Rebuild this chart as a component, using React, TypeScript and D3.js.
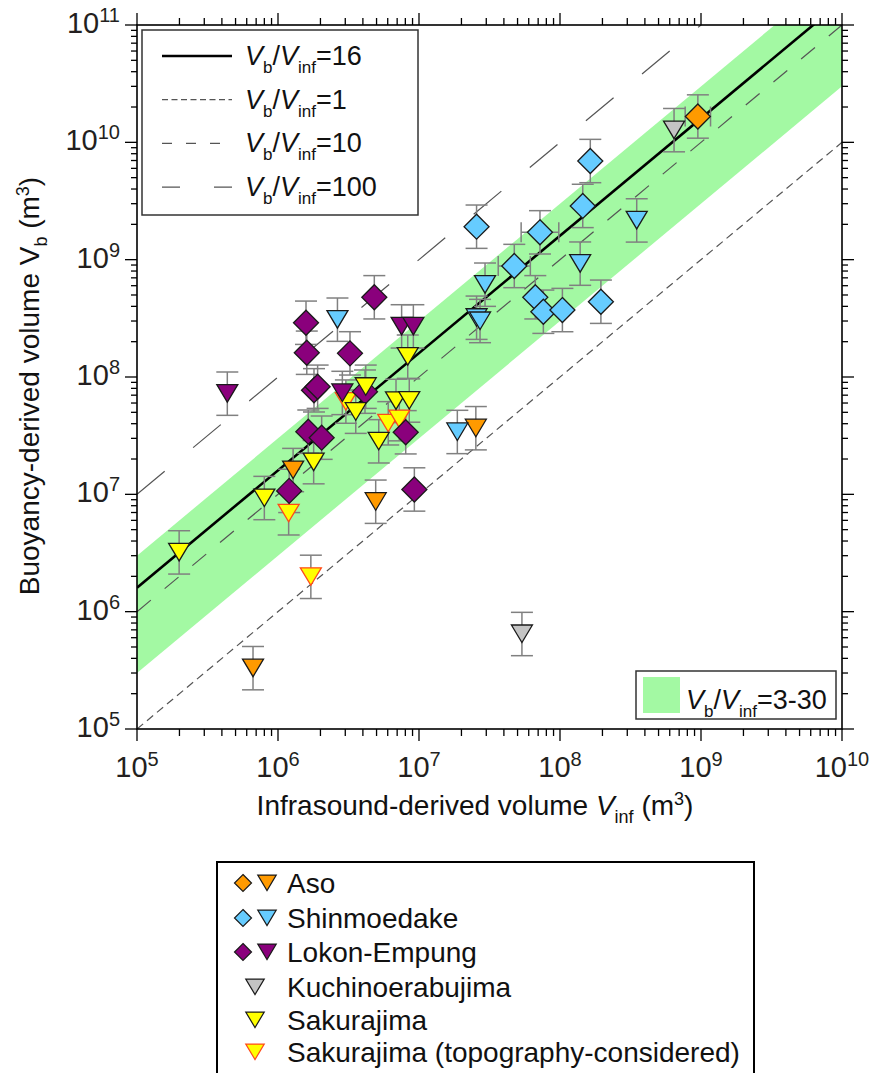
import React from 'react';
import * as d3 from 'd3';

// [Vinf, Vb, optional horizontal error factor]
const asoDiamond = [[9.5e8, 1.66e10, 1.23]];
const asoTriangle = [[6.65e5, 3.3e5], [4.93e6, 8.65e6], [1.28e6, 1.61e7], [2.53e7, 3.66e7]];
const shinDiamond = [
  [1.64e8, 6.93e9], [1.45e8, 2.87e9], [2.56e7, 1.91e9], [7.21e7, 1.71e9, 1.36],
  [4.74e7, 8.83e8, 1.3], [6.68e7, 4.78e8], [7.62e7, 3.6e8], [1.04e8, 3.72e8], [1.95e8, 4.38e8],
];
const shinTriangle = [
  [3.5e8, 2.16e9], [2.94e7, 6.12e8], [1.39e8, 9.25e8], [2.56e7, 3.2e8],
  [2.71e7, 3.0e8], [1.87e7, 3.4e7], [2.64e6, 3.08e8],
];
const lokonDiamond = [
  [1.58e6, 2.9e8], [1.6e6, 1.61e8], [4.82e6, 4.78e8], [3.24e6, 1.59e8], [1.8e6, 7.7e7],
  [1.91e6, 8.26e7], [4.14e6, 7.5e7], [1.64e6, 3.42e7], [2.04e6, 3.04e7], [8.05e6, 3.38e7],
  [9.27e6, 1.1e7], [1.2e6, 1.07e7],
];
const lokonTriangle = [[4.37e5, 7.21e7], [7.53e6, 2.7e8], [9.12e6, 2.7e8], [2.86e6, 7.31e7]];
const kuchiTriangle = [[6.44e8, 1.27e10], [5.37e7, 6.45e5]];
const sakuraTriangle = [
  [1.99e5, 3.2e6], [8.0e5, 9.3e6], [1.79e6, 1.88e7], [4.19e6, 8.26e7], [8.32e6, 1.49e8],
  [3.56e6, 5.06e7], [6.87e6, 6.25e7], [8.53e6, 6.3e7], [5.18e6, 2.83e7],
];
const sakuraTopoTriangle = [[3.03e6, 6.17e7], [6.05e6, 4.03e7], [7.25e6, 4.37e7], [1.19e6, 6.89e6], [1.71e6, 1.98e6]];

const errFactor = 1.53; // vertical error bars, log-symmetric

const ratioLines = [16, 1, 10, 100];
const band = [3, 30];
const xDecades = [5, 6, 7, 8, 9, 10];
const yDecades = [5, 6, 7, 8, 9, 10, 11];

const legendNames = ['Aso', 'Shinmoedake', 'Lokon-Empung', 'Kuchinoerabujima', 'Sakurajima', 'Sakurajima (topography-considered)'];

const FONT = 'Liberation Sans, Arial, Helvetica, sans-serif';
const C = {
  aso: '#ff9a00', shin: '#66ccff', lokon: '#8a007c', kuchi: '#c4c4c4', sakura: '#ffff00',
  topo: '#ff4a1a', green: '#a3f9a3', err: '#808080', edge: '#1a1a1a',
};

const left = 137, right = 842, top = 25, bottom = 729;

const x = d3.scaleLog().domain([1e5, 1e10]).range([left, right]);
const y = d3.scaleLog().domain([1e5, 1e11]).range([bottom, top]);

const series = [
  { data: asoTriangle, shape: 'tri', fill: C.aso, stroke: C.edge },
  { data: sakuraTopoTriangle, shape: 'tri', fill: C.sakura, stroke: C.topo },
  { data: lokonDiamond, shape: 'dia', fill: C.lokon, stroke: C.edge },
  { data: lokonTriangle, shape: 'tri', fill: C.lokon, stroke: C.edge },
  { data: sakuraTriangle, shape: 'tri', fill: C.sakura, stroke: C.edge },
  { data: shinDiamond, shape: 'dia', fill: C.shin, stroke: C.edge },
  { data: shinTriangle, shape: 'tri', fill: C.shin, stroke: C.edge },
  { data: kuchiTriangle, shape: 'tri', fill: C.kuchi, stroke: C.edge },
  { data: asoDiamond, shape: 'dia', fill: C.aso, stroke: C.edge },
];

function markerPath(shape, cx, cy, s) {
  if (shape === 'dia') {
    return `M${cx},${cy - s}L${cx + s},${cy}L${cx},${cy + s}L${cx - s},${cy}Z`;
  }
  const w = s * 0.84;
  return `M${cx - w},${cy - s * 0.72}L${cx + w},${cy - s * 0.72}L${cx},${cy + s * 0.68}Z`;
}

function ratioPath(r) {
  return d3.line()([[x(1e5), y(1e5 * r)], [x(1e10), y(1e10 * r)]]);
}

function VbVinf({ tail, sub = 17 }) {
  return (
    <>
      <tspan fontStyle="italic">V</tspan>
      <tspan fontSize={sub} dy={8}>b</tspan>
      <tspan dy={-8}>/</tspan>
      <tspan fontStyle="italic">V</tspan>
      <tspan fontSize={sub} dy={8}>inf</tspan>
      <tspan dy={-8}>{tail}</tspan>
    </>
  );
}

export default function App() {
  const bandArea = d3.area()
    .x(d => x(d))
    .y0(d => y(d * band[0]))
    .y1(d => y(d * band[1]));

  const minors = (decs) => {
    const out = [];
    decs.slice(0, -1).forEach(k => {
      for (let m = 2; m <= 9; m++) out.push(m * Math.pow(10, k));
    });
    return out;
  };

  const dashes = { 16: null, 1: '8,5', 10: '18,18', 100: '36,37' };
  const legendDashes = { 16: null, 1: '6,3.5', 10: '10,14', 100: '18,34' };

  return (
    <svg width={869} height={1073} style={{ position: 'absolute', left: 0, top: 0 }} fontFamily={FONT}>
      <defs>
        <clipPath id="plot"><rect x={left} y={top} width={right - left} height={bottom - top} /></clipPath>
      </defs>
      <rect width={869} height={1073} fill="#fff" />

      <g clipPath="url(#plot)">
        <path d={bandArea([1e4, 1e11])} fill={C.green} />
        {ratioLines.map(r => (
          <path key={r} d={ratioPath(r)} fill="none"
            stroke={r === 16 ? '#000' : '#555'} strokeWidth={r === 16 ? 2.6 : 1.2}
            strokeDasharray={dashes[r] || undefined} />
        ))}

        {/* error bars */}
        {series.map((s, si) => s.data.map((d, i) => {
          const cx = x(d[0]);
          const y0 = y(d[1] / errFactor), y1 = y(d[1] * errFactor);
          return (
            <g key={`e${si}-${i}`} stroke={C.err} strokeWidth={1.5} fill="none">
              <line x1={cx} x2={cx} y1={y0} y2={y1} />
              <line x1={cx - 11} x2={cx + 11} y1={y0} y2={y0} />
              <line x1={cx - 11} x2={cx + 11} y1={y1} y2={y1} />
              {d[2] && (
                <>
                  <line x1={x(d[0] / d[2])} x2={x(d[0] * d[2])} y1={y(d[1])} y2={y(d[1])} />
                  <line x1={x(d[0] / d[2])} x2={x(d[0] / d[2])} y1={y(d[1]) - 10} y2={y(d[1]) + 10} />
                  <line x1={x(d[0] * d[2])} x2={x(d[0] * d[2])} y1={y(d[1]) - 10} y2={y(d[1]) + 10} />
                </>
              )}
            </g>
          );
        }))}

        {/* markers */}
        {series.map((s, si) => s.data.map((d, i) => (
          <path key={`m${si}-${i}`} d={markerPath(s.shape, x(d[0]), y(d[1]), 12.5)}
            fill={s.fill} stroke={s.stroke} strokeWidth={1.3} strokeLinejoin="miter" />
        )))}
      </g>

      {/* frame */}
      <rect x={left} y={top} width={right - left} height={bottom - top} fill="none" stroke="#000" strokeWidth={1.6} />

      {/* ticks */}
      <g stroke="#000" strokeWidth={1.3}>
        {xDecades.map(k => (
          <g key={`xM${k}`}>
            <line x1={x(10 ** k)} x2={x(10 ** k)} y1={bottom} y2={bottom + 12} />
            <line x1={x(10 ** k)} x2={x(10 ** k)} y1={top} y2={top - 12} />
          </g>
        ))}
        {minors(xDecades).map(v => (
          <g key={`xm${v}`}>
            <line x1={x(v)} x2={x(v)} y1={bottom} y2={bottom + 7} />
            <line x1={x(v)} x2={x(v)} y1={top} y2={top - 7} />
          </g>
        ))}
        {yDecades.map(k => (
          <g key={`yM${k}`}>
            <line y1={y(10 ** k)} y2={y(10 ** k)} x1={left} x2={left - 12} />
            <line y1={y(10 ** k)} y2={y(10 ** k)} x1={right} x2={right + 12} />
          </g>
        ))}
        {minors(yDecades).map(v => (
          <g key={`ym${v}`}>
            <line y1={y(v)} y2={y(v)} x1={left} x2={left - 6} />
            <line y1={y(v)} y2={y(v)} x1={right} x2={right + 6} />
          </g>
        ))}
      </g>

      {/* tick labels */}
      <g fill="#231f20" fontSize={29}>
        {xDecades.map(k => (
          <text key={`xl${k}`} x={x(10 ** k)} y={bottom + 48} textAnchor="middle">
            10<tspan fontSize={20} dy={-11}>{k}</tspan>
          </text>
        ))}
        {yDecades.map(k => (
          <text key={`yl${k}`} x={left - 17} y={y(10 ** k) + 8} textAnchor="end">
            10<tspan fontSize={20} dy={-11}>{k}</tspan>
          </text>
        ))}
      </g>

      {/* axis titles */}
      <text x={475} y={815} textAnchor="middle" fontSize={28} fill="#111">
        Infrasound-derived volume <tspan fontStyle="italic">V</tspan>
        <tspan fontSize={18} dy={8}>inf</tspan>
        <tspan dy={-8}> (m</tspan><tspan fontSize={18} dy={-10}>3</tspan><tspan dy={10}>)</tspan>
      </text>
      <text transform="translate(39,386) rotate(-90)" textAnchor="middle" fontSize={28} fill="#111">
        Buoyancy-derived volume V<tspan fontSize={18} dy={8}>b</tspan>
        <tspan dy={-8}> (m</tspan><tspan fontSize={18} dy={-10}>3</tspan><tspan dy={10}>)</tspan>
      </text>

      {/* ratio legend */}
      <rect x={142} y={30} width={276} height={185} fill="#fff" stroke="#333" strokeWidth={1.5} />
      {ratioLines.map((r, i) => {
        const ly = 56 + i * 43.7;
        return (
          <g key={`rl${r}`}>
            <line x1={162} x2={232} y1={ly} y2={ly}
              stroke={r === 16 ? '#000' : '#555'} strokeWidth={r === 16 ? 2.6 : 1.2}
              strokeDasharray={legendDashes[r] || undefined} />
            <text x={245} y={ly + 9} fontSize={27} fill="#111">
              <VbVinf tail={`=${r}`} />
            </text>
          </g>
        );
      })}

      {/* band legend */}
      <rect x={636} y={671} width={200} height={48} fill="#fff" stroke="#333" strokeWidth={1.5} />
      <rect x={643} y={677} width={37} height={36} fill={C.green} />
      <text x={686} y={709} fontSize={27} fill="#111">
        <VbVinf tail={`=${band[0]}-${band[1]}`} />
      </text>

      {/* volcano legend */}
      <rect x={217} y={862} width={537} height={230} fill="#fff" stroke="#000" strokeWidth={2} />
      {legendNames.map((name, i) => {
        const ly = [883, 918, 952, 987, 1020, 1052][i];
        const fills = [C.aso, C.shin, C.lokon, C.kuchi, C.sakura, C.sakura];
        const strokes = [C.edge, C.edge, C.edge, C.edge, C.edge, C.topo];
        const both = i < 3;
        return (
          <g key={name}>
            {both && <path d={markerPath('dia', 243, ly, 8.5)} fill={fills[i]} stroke={strokes[i]} strokeWidth={1.2} />}
            <path d={markerPath('tri', both ? 267 : 255, ly, 11)} fill={fills[i]} stroke={strokes[i]} strokeWidth={1.2} />
            <text x={287} y={ly + 10} fontSize={28} fill="#111">{name}</text>
          </g>
        );
      })}
    </svg>
  );
}
